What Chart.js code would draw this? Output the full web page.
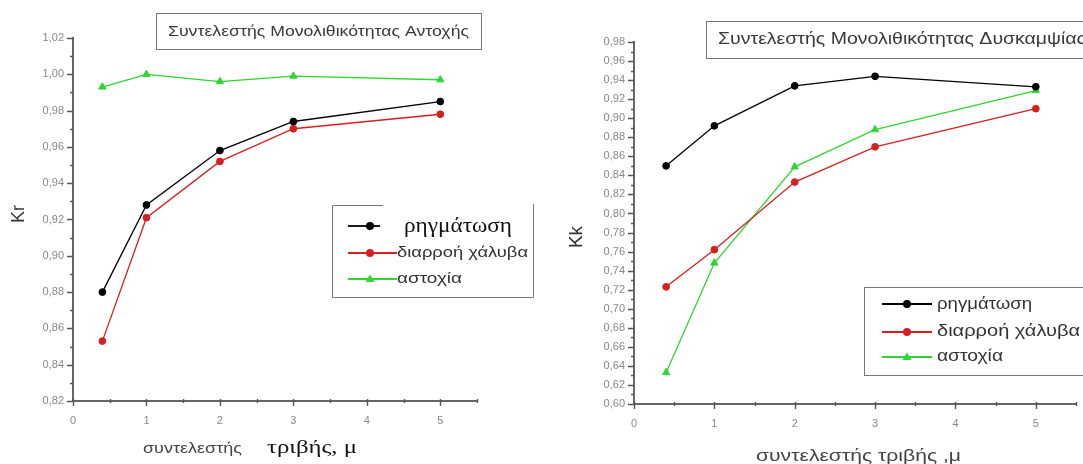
<!DOCTYPE html>
<html>
<head>
<meta charset="utf-8">
<script src="https://cdn.jsdelivr.net/npm/chart.js@4"></script>
<style>
  html, body { margin: 0; padding: 0; background: #fff; overflow: hidden; }
  #wrap { position: relative; width: 1083px; height: 464px; }
  canvas { position: absolute; top: 0; }
</style>
</head>
<body>
<div id="wrap">
  <canvas id="kr" width="541" height="464" style="left:0"></canvas>
  <canvas id="kk" width="541" height="464" style="left:542px"></canvas>
</div>
<script>
// friction coefficient values (x)
const muValues = [0.4, 1, 2, 3, 5];

// Kr - strength monolithic coefficient
const krFracture = [0.880, 0.928, 0.958, 0.974, 0.985];
const krSteelYield = [0.853, 0.921, 0.952, 0.970, 0.978];
const krFailure = [0.993, 1.000, 0.996, 0.999, 0.997];

// Kk - stiffness monolithic coefficient
const kkFracture = [0.850, 0.892, 0.934, 0.944, 0.933];
const kkSteelYield = [0.723, 0.762, 0.833, 0.870, 0.910];
const kkFailure = [0.633, 0.748, 0.849, 0.888, 0.929];

const seriesNames = ['ρηγμάτωση', 'διαρροή χάλυβα', 'αστοχία'];
const seriesColors = ['#000000', '#d42020', '#2fd62f'];
const xTickLabels = ['0', '1', '2', '3', '4', '5'];

const SANS = '"Liberation Sans", Arial, sans-serif';
const SERIF = '"Liberation Serif", "Times New Roman", serif';

function toPoints(ys) {
    return muValues.map((x, i) => ({x: x, y: ys[i]}));
}

function makeDatasets(series) {
    return series.map((ys, i) => ({
        label: seriesNames[i],
        data: toPoints(ys),
        borderColor: seriesColors[i],
        backgroundColor: seriesColors[i],
        borderWidth: 1.3,
        pointStyle: i === 2 ? 'triangle' : 'circle',
        pointRadius: i === 2 ? 4.2 : 3.4,
        pointBorderWidth: 1,
        tension: 0,
    }));
}

// draw text squeezed/stretched horizontally to a given width
function fitText(ctx, text, x, y, width, font, color) {
    ctx.save();
    ctx.font = font;
    ctx.fillStyle = color;
    ctx.textBaseline = 'middle';
    ctx.textAlign = 'left';
    const w = ctx.measureText(text).width;
    ctx.translate(x, y);
    ctx.scale(width / w, 1);
    ctx.fillText(text, 0, 0);
    ctx.restore();
}

function rotatedText(ctx, text, x, y, font) {
    ctx.save();
    ctx.font = font;
    ctx.fillStyle = '#333';
    ctx.textAlign = 'center';
    ctx.textBaseline = 'middle';
    ctx.translate(x, y);
    ctx.rotate(-Math.PI / 2);
    ctx.fillText(text, 0, 0);
    ctx.restore();
}

function legendMarker(ctx, i, x1, x2, mx, y) {
    ctx.save();
    ctx.strokeStyle = seriesColors[i];
    ctx.fillStyle = seriesColors[i];
    ctx.lineWidth = 1.8;
    ctx.beginPath();
    ctx.moveTo(x1, y);
    ctx.lineTo(x2, y);
    ctx.stroke();
    ctx.beginPath();
    if (i === 2) {
        ctx.moveTo(mx, y - 4.5);
        ctx.lineTo(mx + 4.5, y + 3);
        ctx.lineTo(mx - 4.5, y + 3);
        ctx.closePath();
    } else {
        ctx.arc(mx, y, 4, 0, Math.PI * 2);
    }
    ctx.fill();
    ctx.restore();
}

// axis tick marks (major + minor) drawn through the scales, then the decorations
function makeOverlay(decor) {
    return {
        id: 'overlay',
        afterDraw(chart) {
            const ctx = chart.ctx;
            const xs = chart.scales.x, ys = chart.scales.y;
            const area = chart.chartArea;
            ctx.save();
            ctx.strokeStyle = '#555';
            ctx.lineWidth = 1.4;
            ctx.beginPath();
            for (let k = Math.round(ys.min * 100); k <= Math.round(ys.max * 100); k++) {
                const py = Math.round(ys.getPixelForValue(k / 100)) + 0.5;
                const len = k % 2 === 0 ? 6 : 3;
                ctx.moveTo(area.left - len, py);
                ctx.lineTo(area.left, py);
            }
            for (let k = 0; k <= Math.round(xs.max * 2); k++) {
                const px = Math.round(xs.getPixelForValue(k / 2)) + 0.5;
                ctx.moveTo(px, area.bottom - 2);
                ctx.lineTo(px, area.bottom + (k % 2 === 0 ? 5 : 2));
            }
            ctx.stroke();
            ctx.restore();
            decor(ctx);
        }
    };
}

function makeConfig(series, yMin, yMax, yWidth, padding, decor) {
    return {
        type: 'line',
        data: {datasets: makeDatasets(series)},
        options: {
            responsive: false,
            animation: false,
            layout: {padding: padding},
            plugins: {
                legend: {display: false},
                tooltip: {enabled: false},
            },
            scales: {
                x: {
                    type: 'linear',
                    min: 0,
                    max: 5.5,
                    afterFit: (s) => { s.height = 30; },
                    grid: {drawOnChartArea: false, color: 'rgba(0,0,0,0)', tickLength: 6},
                    border: {display: true, color: '#666', width: 2},
                    ticks: {
                        stepSize: 0.5,
                        autoSkip: false,
                        maxRotation: 0,
                        padding: 7,
                        color: '#888',
                        font: {family: SANS, size: 11},
                        callback: (v) => Number.isInteger(v) ? xTickLabels[v] : '',
                    },
                },
                y: {
                    min: yMin,
                    max: yMax,
                    afterFit: (s) => { s.width = yWidth; },
                    grid: {drawOnChartArea: false, color: 'rgba(0,0,0,0)', tickLength: 7},
                    border: {display: true, color: '#666', width: 2},
                    ticks: {
                        stepSize: 0.01,
                        autoSkip: false,
                        padding: 2,
                        color: '#888',
                        font: {family: SANS, size: 11},
                        callback: (v) => {
                            const k = Math.round(v * 100);
                            return k % 2 === 0 ? (k / 100).toFixed(2).replace('.', ',') : '';
                        },
                    },
                },
            },
        },
        plugins: [makeOverlay(decor)],
    };
}

// left chart: Kr
function krDecor(ctx) {
    ctx.save();
    ctx.strokeStyle = '#777';
    ctx.lineWidth = 1;
    ctx.strokeRect(156.5, 13.5, 325, 36);
    ctx.restore();
    fitText(ctx, 'Συντελεστής Μονολιθικότητας Αντοχής', 168, 32, 301, '15px ' + SANS, '#3a3a3a');

    // legend box (top border partly covered, as in the scan)
    ctx.save();
    ctx.fillStyle = '#fff';
    ctx.fillRect(333, 206, 201, 91);
    ctx.strokeStyle = '#777';
    ctx.lineWidth = 1;
    ctx.beginPath();
    ctx.moveTo(383, 205.5); ctx.lineTo(332.5, 205.5);
    ctx.lineTo(332.5, 297.5); ctx.lineTo(533.5, 297.5);
    ctx.lineTo(533.5, 204);
    ctx.stroke();
    ctx.restore();
    legendMarker(ctx, 0, 348, 380, 370, 226);
    legendMarker(ctx, 1, 348, 397, 370, 253);
    legendMarker(ctx, 2, 348, 397, 370, 279);
    fitText(ctx, seriesNames[0], 404, 227, 108, '20px ' + SERIF, '#111');
    fitText(ctx, seriesNames[1], 397, 253, 131, '15px ' + SANS, '#333');
    fitText(ctx, seriesNames[2], 397, 279, 65, '15px ' + SANS, '#333');

    rotatedText(ctx, 'Kr', 19, 214, '18px ' + SANS);
    fitText(ctx, 'συντελεστής', 143, 449, 99, '15px ' + SANS, '#444');
    fitText(ctx, 'τριβής, μ', 267, 448, 90, '19px ' + SERIF, '#111');
}

// right chart: Kk (canvas offset 542px)
function kkDecor(ctx) {
    ctx.save();
    ctx.strokeStyle = '#777';
    ctx.lineWidth = 1;
    ctx.strokeRect(164.5, 21.5, 400, 37);
    ctx.fillStyle = '#fff';
    ctx.fillRect(323, 288, 230, 87);
    ctx.strokeRect(322.5, 287.5, 300, 88);
    ctx.restore();
    fitText(ctx, 'Συντελεστής Μονολιθικότητας Δυσκαμψίας', 176, 40, 368, '16px ' + SANS, '#3a3a3a');

    legendMarker(ctx, 0, 340, 390, 365, 304);
    legendMarker(ctx, 1, 340, 390, 365, 332);
    legendMarker(ctx, 2, 340, 390, 365, 357);
    fitText(ctx, seriesNames[0], 395, 305, 95, '16px ' + SANS, '#333');
    fitText(ctx, seriesNames[1], 395, 332, 143, '16px ' + SANS, '#333');
    fitText(ctx, seriesNames[2], 395, 357, 66, '16px ' + SANS, '#333');

    rotatedText(ctx, 'Kk', 35, 237, '19px ' + SANS);
    fitText(ctx, 'συντελεστής τριβής ,μ', 214, 457, 205, '16px ' + SANS, '#444');
}

new Chart(document.getElementById('kr').getContext('2d'),
    makeConfig([krFracture, krSteelYield, krFailure], 0.82, 1.02, 73,
        {left: 0, right: 64, top: 38, bottom: 33}, krDecor));

new Chart(document.getElementById('kk').getContext('2d'),
    makeConfig([kkFracture, kkSteelYield, kkFailure], 0.60, 0.98, 92,
        {left: 0, right: 1, top: 42, bottom: 30}, kkDecor));
</script>
</body>
</html>
